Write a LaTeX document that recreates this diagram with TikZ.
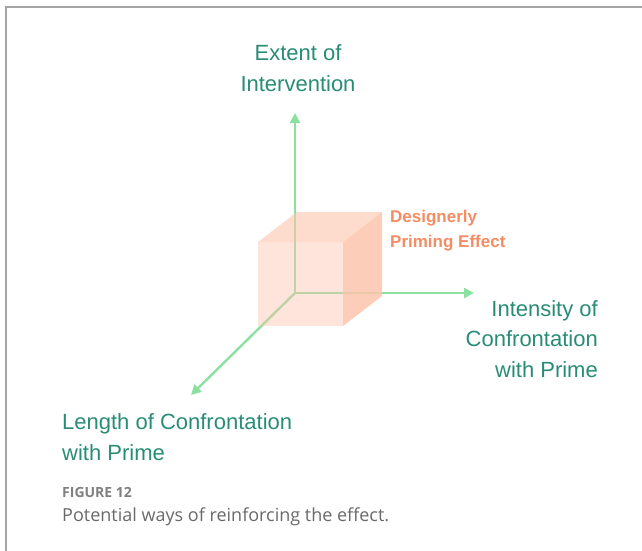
\documentclass[tikz,border=0pt]{standalone}
\usepackage{fontspec}
\setmainfont{Liberation Sans}
\newfontfamily\capfont{Open Sans}
\usepackage{xcolor}
\usetikzlibrary{arrows.meta}

\definecolor{axisgreen}{RGB}{140,224,160}
\definecolor{labelteal}{RGB}{40,140,118}
\definecolor{primeorange}{RGB}{244,140,100}
\definecolor{cubeface}{RGB}{252,196,172}
\definecolor{framegray}{RGB}{165,165,165}
\definecolor{capgray}{RGB}{105,105,105}

\tikzset{
  axis/.style={draw=axisgreen, line width=2.4pt,
    -{Triangle[length=10pt,width=10pt]}},
  axislabel/.style={font=\fontsize{22}{30.5}\selectfont, text=labelteal,
    inner sep=0pt},
  face/.style={fill=cubeface, draw=none}
}

\begin{document}
\begin{tikzpicture}[x=1pt, y=-1pt]

\useasboundingbox (0,0) rectangle (642,550);

% Rahmen (nur links und oben sichtbar)
\draw[framegray, line width=1.4pt] (6,552) -- (6,7) -- (644,7);

% Achsen
\coordinate (o) at (295,293);
\coordinate (up) at (295,113);
\coordinate (right) at (474,293);
\coordinate (front) at (191,395);
\draw[axis] (o) -- (up);
\draw[axis] (o) -- (right);
\draw[axis] (o) -- (front);

% Würfel (Effekt)
\coordinate (f1) at (258,242);
\coordinate (f2) at (343,242);
\coordinate (f3) at (343,326);
\coordinate (f4) at (258,326);
\coordinate (b1) at (297,212);
\coordinate (b2) at (382,212);
\coordinate (b3) at (382,296);
\fill[face, opacity=0.45] (f1) -- (f2) -- (f3) -- (f4) -- cycle;
\fill[face, opacity=0.6] (f1) -- (b1) -- (b2) -- (f2) -- cycle;
\fill[face, opacity=0.85] (f2) -- (b2) -- (b3) -- (f3) -- cycle;

% Beschriftungen (base = letzte Zeile)
\node[axislabel, anchor=base, align=center] (extent) at (298,91)
  {Extent of\\Intervention};
\node[axislabel, anchor=base east, align=right] (intensity) at (598,377)
  {Intensity of\\Confrontation\\with Prime};
\node[axislabel, anchor=base west, align=left] (length) at (62,460)
  {Length of Confrontation\\with Prime};
\node[font=\fontsize{17}{25}\selectfont\bfseries, text=primeorange,
  anchor=base west, align=left, inner sep=0pt] (effect) at (390,247)
  {Designerly\\Priming Effect};

% Bildunterschrift
\node[font=\capfont\bfseries\fontsize{14}{16}\selectfont, text=capgray!85,
  anchor=base west, inner sep=0pt] (fig) at (62,497) {FIGURE 12};
\node[font=\capfont\fontsize{18}{22}\selectfont, text=capgray,
  anchor=base west, inner sep=0pt] (caption) at (62,521)
  {Potential ways of reinforcing the effect.};

\end{tikzpicture}
\end{document}
